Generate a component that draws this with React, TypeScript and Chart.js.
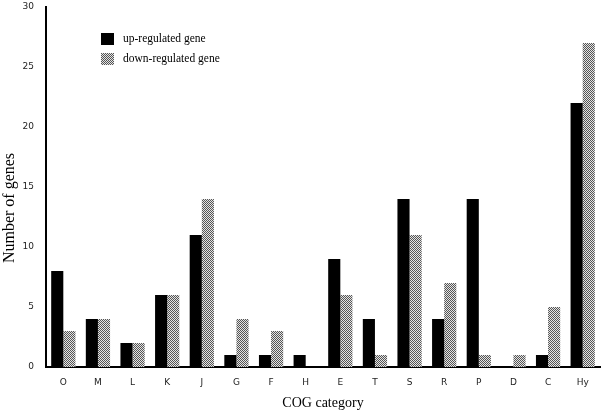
import React, { useEffect, useRef } from "react";
import { Chart, registerables } from "chart.js";

Chart.register(...registerables);

const categories = ["O", "M", "L", "K", "J", "G", "F", "H", "E", "T", "S", "R", "P", "D", "C", "Hy"];
const upRegulated = [8, 4, 2, 6, 11, 1, 1, 1, 9, 4, 14, 4, 14, 0, 1, 22];
const downRegulated = [3, 4, 2, 6, 14, 4, 3, 0, 6, 1, 11, 7, 1, 1, 5, 27];
const seriesNames = ["up-regulated gene", "down-regulated gene"];
const yTitle = "Number of genes";

function makePattern(): CanvasPattern | string {
  const c = document.createElement("canvas");
  c.width = 2;
  c.height = 2;
  const g = c.getContext("2d");
  if (!g) return "#999";
  g.fillStyle = "#e4e4e4";
  g.fillRect(0, 0, 2, 2);
  g.fillStyle = "#555";
  g.fillRect(0, 0, 1, 1);
  g.fillRect(1, 1, 1, 1);
  const p = g.createPattern(c, "repeat");
  return p || "#999";
}

export default function App() {
  const ref = useRef<HTMLCanvasElement | null>(null);
  useEffect(() => {
    document.body.style.margin = "0";
    const canvas = ref.current;
    if (!canvas) return;
    const pattern = makePattern();
    const legendPlugin = {
      id: "customLegend",
      afterDraw(chart: any) {
        const ctx = chart.ctx;
        ctx.save();
        const items = [
          { fill: "#000", y: 33 },
          { fill: pattern, y: 53 },
        ];
        items.forEach((it, i) => {
          ctx.fillStyle = it.fill;
          ctx.fillRect(101, it.y, 13, 12);
          ctx.fillStyle = "#000";
          ctx.font = "11.5px 'Liberation Serif', 'Times New Roman', serif";
          ctx.textBaseline = "middle";
          ctx.textAlign = "left";
          ctx.fillText(seriesNames[i], 123, it.y + 6);
        });
        // y-axis title
        ctx.translate(10, 208);
        ctx.rotate(-Math.PI / 2);
        ctx.font = "16px 'Liberation Serif', 'Times New Roman', serif";
        ctx.textAlign = "center";
        ctx.textBaseline = "middle";
        ctx.fillText(yTitle, 0, 0);
        ctx.restore();
      },
    };
    const chart = new Chart(canvas, {
      type: "bar",
      data: {
        labels: categories,
        datasets: [
          {
            label: seriesNames[0],
            data: upRegulated,
            backgroundColor: "#000",
            borderWidth: 0,
            categoryPercentage: 0.7,
            barPercentage: 1,
          },
          {
            label: seriesNames[1],
            data: downRegulated,
            backgroundColor: pattern as any,
            borderWidth: 0,
            categoryPercentage: 0.7,
            barPercentage: 1,
          },
        ],
      },
      options: {
        animation: false,
        responsive: false,
        maintainAspectRatio: false,
        layout: { padding: { top: 7, right: 3, left: 0, bottom: 0 } },
        plugins: {
          legend: { display: false },
          tooltip: { enabled: false },
        },
        scales: {
          x: {
            grid: { display: false, drawTicks: false },
            border: { display: true, color: "#000", width: 2 },
            ticks: {
              color: "#222",
              font: { family: "'DejaVu Sans', sans-serif", size: 9 },
              padding: 10,
              maxRotation: 0,
            },
            title: {
              display: true,
              text: "COG category",
              color: "#000",
              font: { family: "'Liberation Serif', 'Times New Roman', serif", size: 14 },
              padding: { top: 2, bottom: 0 },
            },
            afterFit(scale: any) {
              scale.height = 45;
              scale.paddingLeft = 0;
              scale.paddingRight = 0;
            },
          },
          y: {
            min: 0,
            max: 30,
            grid: { display: false, drawTicks: false },
            border: { display: true, color: "#000", width: 2 },
            ticks: {
              stepSize: 5,
              color: "#222",
              font: { family: "'DejaVu Sans', sans-serif", size: 9 },
              padding: 12,
            },
            afterFit(scale: any) {
              scale.width = 46;
              scale.paddingTop = 0;
              scale.paddingBottom = 0;
            },
          },
        },
      },
      plugins: [legendPlugin],
    });
    return () => chart.destroy();
  }, []);
  return (
    <div style={{ width: 603, height: 412, background: "#fff" }}>
      <canvas ref={ref} width={603} height={412} style={{ display: "block" }} />
    </div>
  );
}
